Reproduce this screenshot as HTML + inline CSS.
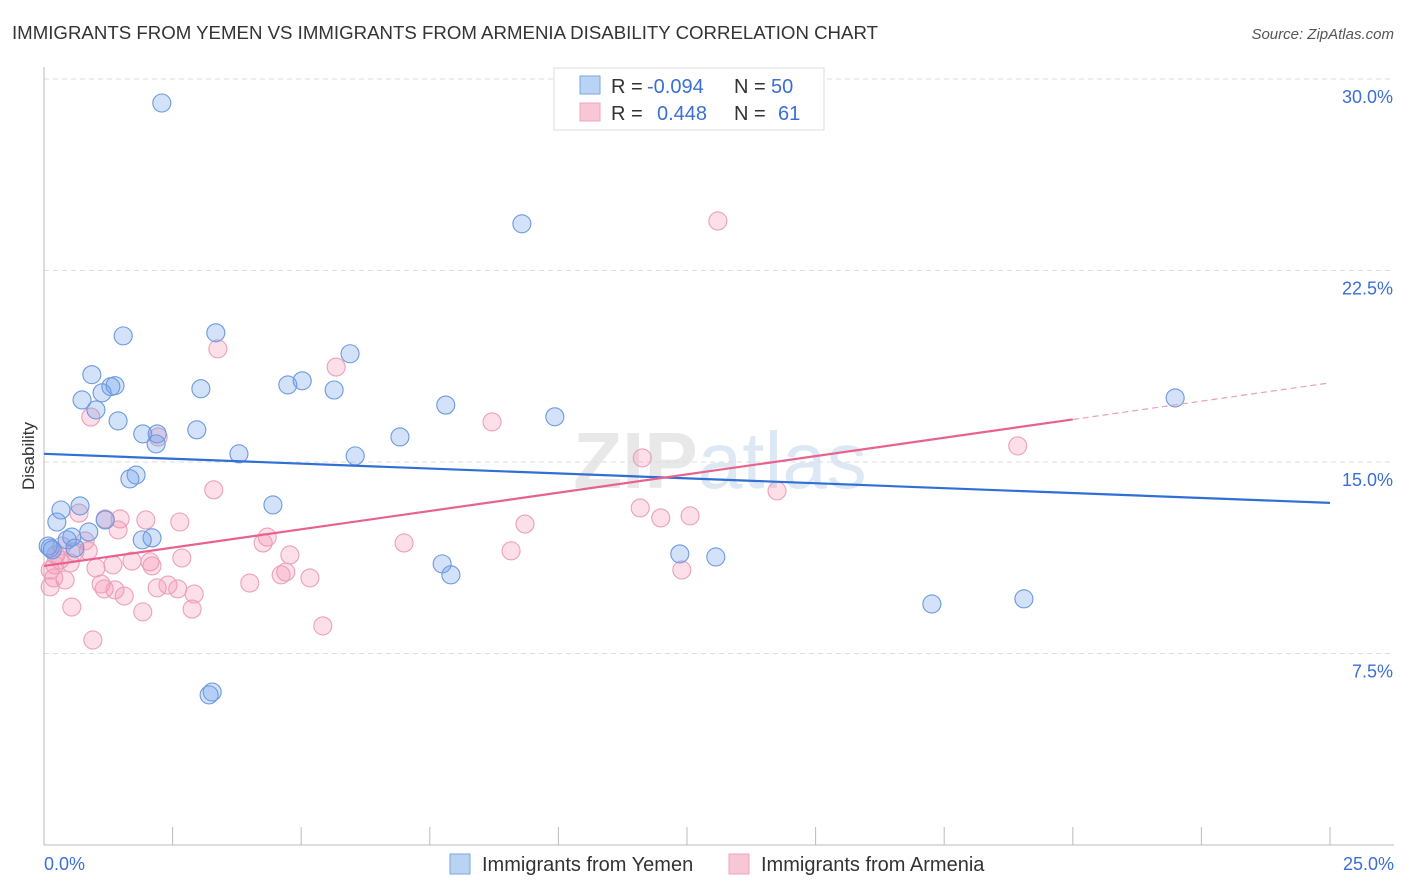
<!DOCTYPE html>
<html><head><meta charset="utf-8"><style>
body{margin:0;background:#fff;font-family:"Liberation Sans",sans-serif}
</style></head><body>
<svg id="c" width="1406" height="892" style="display:block">
<text x="12" y="39" font-size="18" fill="#333" textLength="866" lengthAdjust="spacingAndGlyphs">IMMIGRANTS FROM YEMEN VS IMMIGRANTS FROM ARMENIA DISABILITY CORRELATION CHART</text>
<text x="1394" y="39" font-size="15" fill="#555" font-style="italic" text-anchor="end">Source: ZipAtlas.com</text>
<text x="720" y="488" font-size="80" fill="#e8e8e8" text-anchor="middle" font-weight="bold">ZIP<tspan font-weight="normal" fill="#dde8f5">atlas</tspan></text>
<g id="grid"></g>
<g id="axes"></g>
<g id="pts"></g>
<g id="lines"></g>
<text x="34" y="456" font-size="17" fill="#333" text-anchor="middle" transform="rotate(-90 34 456)">Disability</text>
<g>
<rect x="554" y="68" width="270" height="62" fill="#fff" stroke="#ddd"/>
<rect x="580" y="76" width="20" height="18" fill="#b9d3f5" stroke="#7aa7e0"/>
<rect x="580" y="103" width="20" height="18" fill="#f9c6d6" stroke="#eea3bc"/>
<text x="611" y="93" font-size="20" fill="#333">R = <tspan x="647" fill="#3b6fd4">-0.094</tspan><tspan x="734">N = </tspan><tspan x="771" fill="#3b6fd4">50</tspan></text>
<text x="611" y="120" font-size="20" fill="#333">R = <tspan x="657" fill="#3b6fd4">0.448</tspan><tspan x="734">N = </tspan><tspan x="778" fill="#3b6fd4">61</tspan></text>
</g>
<g>
<rect x="450" y="854" width="20" height="20" fill="#b9d3f5" stroke="#7aa7e0"/>
<text x="482" y="871" font-size="20" fill="#333">Immigrants from Yemen</text>
<rect x="729" y="854" width="20" height="20" fill="#f9c6d6" stroke="#eea3bc"/>
<text x="761" y="871" font-size="20" fill="#333">Immigrants from Armenia</text>
</g>
</svg>
<script>
const yTicks=[7.5,15,22.5,30];
const yTickLabels=["7.5%","15.0%","22.5%","30.0%"];
const xTickLabels=["0.0%","25.0%"];
const blueX=[2.29,9.29,1.54,3.34,5.95,0.93,1.38,1.30,3.05,4.74,5.02,5.64,0.74,1.13,1.01,7.81,1.44,9.93,1.92,2.20,2.18,2.97,6.92,3.79,6.05,1.67,1.79,21.99,4.45,0.70,0.33,0.25,1.19,0.87,0.45,0.54,2.10,1.91,0.12,0.16,0.60,7.74,7.91,12.36,13.06,17.26,19.05,3.27,3.21,0.08];
const blueY=[29.06,24.33,19.94,20.06,19.24,18.42,17.99,17.95,17.87,18.02,18.18,17.82,17.43,17.71,17.04,17.23,16.61,16.77,16.10,16.10,15.71,16.26,15.98,15.32,15.24,14.34,14.49,17.51,13.32,13.28,13.12,12.65,12.73,12.26,11.95,12.06,12.03,11.95,11.63,11.56,11.63,11.01,10.58,11.40,11.28,9.44,9.64,5.99,5.88,11.71];
const pinkX=[13.10,3.38,5.68,8.71,0.91,2.22,18.93,11.63,14.25,3.30,11.59,12.56,11.99,9.35,7.00,9.08,12.40,0.68,1.19,1.48,1.98,2.64,1.44,4.34,4.26,4.78,4.70,5.17,4.61,4.00,5.42,2.68,2.06,2.10,1.71,1.34,1.01,0.86,0.60,0.31,0.21,0.12,0.19,0.41,0.12,1.11,1.17,1.56,1.38,2.20,2.41,2.60,2.92,2.88,1.92,0.54,0.95,0.51,0.35,0.80,0.23];
const pinkY=[24.44,19.43,18.72,16.57,16.76,15.98,15.63,15.16,13.87,13.91,13.20,12.89,12.81,12.57,11.83,11.52,10.77,13.00,12.77,12.77,12.73,12.65,12.34,12.06,11.83,11.36,10.69,10.46,10.58,10.26,8.58,11.24,11.09,10.93,11.12,10.97,10.85,11.52,11.48,11.16,10.97,10.77,10.46,10.38,10.11,10.22,10.03,9.75,9.99,10.07,10.18,10.03,9.83,9.24,9.13,9.32,8.03,11.05,11.71,11.91,11.36];
const blueTrend=[15.32,13.40];
const pinkTrend=[10.93,18.10];
const pinkSolidEnd=20;
const NS="http://www.w3.org/2000/svg";
const X=v=>44+v/25*1286, Y=v=>845-v/30*766;
function mk(t,a,p){const e=document.createElementNS(NS,t);for(const k in a)e.setAttribute(k,a[k]);p.appendChild(e);return e;}
const grid=document.getElementById('grid'),axes=document.getElementById('axes'),pts=document.getElementById('pts'),lines=document.getElementById('lines');
yTicks.forEach((t,i)=>{
 const g=mk('line',{x1:44,x2:1394,y1:Y(t),y2:Y(t),stroke:'#ddd','stroke-dasharray':'5,4'},grid);
 
 
 const l=mk('text',{x:1393,y:Y(t)+24,'font-size':18,fill:'#3b6fd4','text-anchor':'end'},axes);l.textContent=yTickLabels[i];
 
 
});
const ax=mk('line',{x1:44,x2:1394,y1:845,y2:845,stroke:'#bbb'},axes);


const ay=mk('line',{x1:44,x2:44,y1:67,y2:845,stroke:'#bbb'},axes);


for(let i=0;i<=10;i++){const t=mk('line',{x1:X(i*2.5),x2:X(i*2.5),y1:827,y2:845,stroke:'#bbb'},axes);
 
 }
[[0,44,'start'],[25,1394,'end']].forEach((d,i)=>{const l=mk('text',{x:d[1],y:870,'font-size':18,fill:'#3b6fd4','text-anchor':d[2]},axes);l.textContent=xTickLabels[i];
 
 });
pinkX.forEach((x,i)=>{const c=mk('circle',{cx:X(x),cy:Y(pinkY[i]),r:9,fill:'rgba(244,150,180,0.3)',stroke:'#eba0ba','stroke-width':1.1},pts);
 
 });
blueX.forEach((x,i)=>{const c=mk('circle',{cx:X(x),cy:Y(blueY[i]),r:9,fill:'rgba(110,160,235,0.3)',stroke:'#6b9ade','stroke-width':1.1},pts);
 
 });
const pe=pinkTrend[0]+(pinkTrend[1]-pinkTrend[0])*pinkSolidEnd/25;
const l1=mk('line',{x1:X(0),y1:Y(blueTrend[0]),x2:X(25),y2:Y(blueTrend[1]),stroke:'#2f6fd6','stroke-width':2.2},lines);


const l2=mk('line',{x1:X(0),y1:Y(pinkTrend[0]),x2:X(pinkSolidEnd),y2:Y(pe),stroke:'#e8628f','stroke-width':2.2},lines);


const l3=mk('line',{x1:X(pinkSolidEnd),y1:Y(pe),x2:X(25),y2:Y(pinkTrend[1]),stroke:'#e8a0b8','stroke-width':1.2,'stroke-dasharray':'6,4'},lines);


</script>
</body></html>
